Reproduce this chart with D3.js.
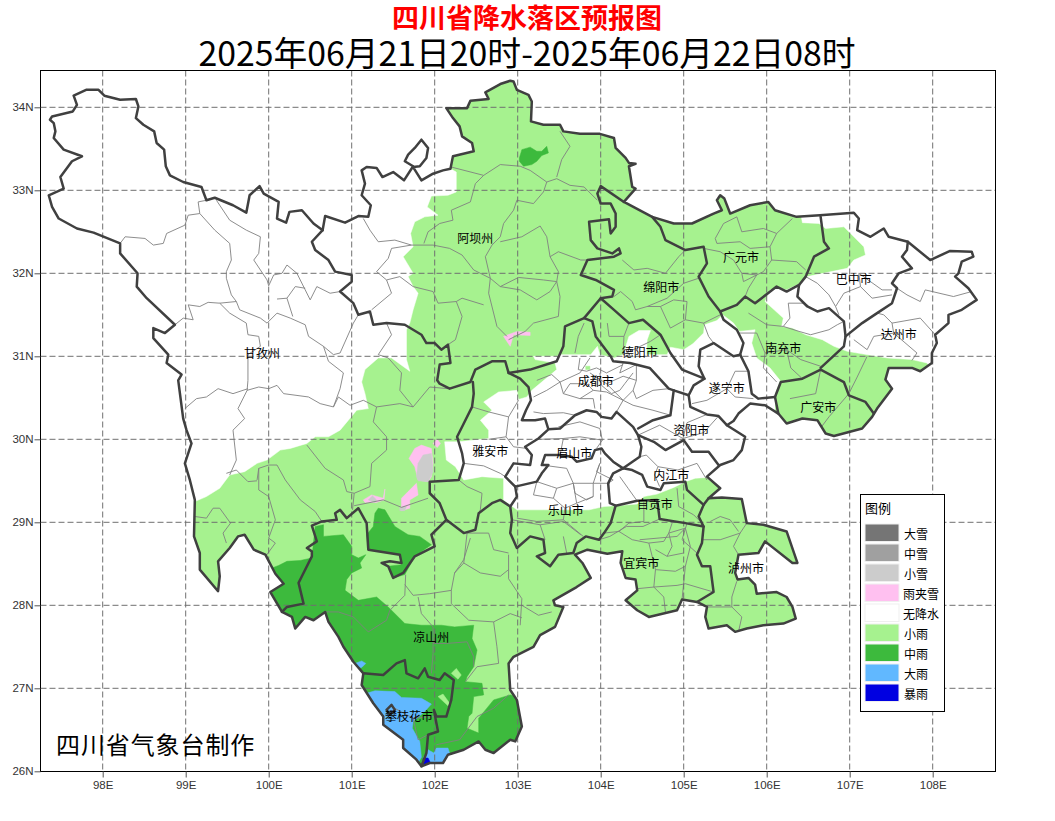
<!DOCTYPE html>
<html><head><meta charset="utf-8">
<script src="https://cdn.jsdelivr.net/npm/d3@7"></script>
<style>html,body{margin:0;padding:0;background:#fff}svg{display:block}</style>
</head><body><svg id="c" width="1055" height="821"></svg>
<script>
const lonTicks=[98,99,100,101,102,103,104,105,106,107,108];
const latTicks=[26,27,28,29,30,31,32,33,34];
const titleMain="四川省降水落区预报图";
const titleSub="2025年06月21日20时-2025年06月22日08时";
const footerText="四川省气象台制作";
const legendTitle="图例";
const legendNames=["大雪","中雪","小雪","雨夹雪","无降水","小雨","中雨","大雨","暴雨"];
const legendColors=["#757575","#a0a0a0","#cccccc","#ffc0f0","#ffffff","#a6f28f","#3dba3d","#61b8ff","#0000e1"];
const cityNames=["阿坝州","甘孜州","广元市","巴中市","绵阳市","达州市","德阳市","南充市","成都市","遂宁市","广安市","资阳市","雅安市","眉山市","内江市","自贡市","乐山市","宜宾市","泸州市","凉山州","攀枝花市"];
const cityLon=[102.49,99.92,105.69,107.05,104.73,107.59,104.47,106.20,103.94,105.52,106.62,105.09,102.67,103.68,104.85,104.65,103.58,104.49,105.75,101.96,101.69];
const cityLat=[32.43,31.05,32.20,31.94,31.84,31.28,31.06,31.11,30.71,30.62,30.39,30.12,29.86,29.84,29.58,29.23,29.15,28.51,28.46,27.63,26.67];

const province=[[97.365,33.85],[97.39,33.89],[97.64,33.95],[97.69,34.03],[97.65,34.14],[97.80,34.21],[97.95,34.21],[98.02,34.14],[98.21,34.09],[98.40,34.10],[98.43,34.01],[98.40,33.87],[98.49,33.79],[98.62,33.71],[98.65,33.57],[98.74,33.49],[98.76,33.29],[98.81,33.18],[98.97,33.10],[99.19,33.04],[99.25,32.88],[99.35,32.91],[99.57,32.82],[99.73,32.73],[99.77,32.94],[99.89,33.05],[99.94,32.96],[100.12,32.86],[100.10,32.66],[100.21,32.61],[100.25,32.74],[100.40,32.76],[100.54,32.60],[100.65,32.52],[100.68,32.69],[100.92,32.61],[101.08,32.69],[101.20,32.68],[101.23,32.82],[101.12,32.94],[101.16,33.08],[101.12,33.24],[101.18,33.28],[101.30,33.27],[101.37,33.16],[101.50,33.22],[101.63,33.12],[101.74,33.29],[101.64,33.35],[101.68,33.43],[101.76,33.51],[101.84,33.61],[101.92,33.51],[101.90,33.39],[101.82,33.29],[101.74,33.28],[101.84,33.12],[101.98,33.20],[102.10,33.24],[102.19,33.26],[102.22,33.41],[102.47,33.47],[102.45,33.57],[102.33,33.65],[102.30,33.77],[102.22,33.87],[102.14,33.99],[102.39,33.99],[102.43,34.08],[102.65,34.10],[102.61,34.18],[102.79,34.28],[102.91,34.32],[102.95,34.31],[102.99,34.21],[103.13,34.15],[103.17,34.07],[103.16,33.83],[103.31,33.79],[103.51,33.79],[103.55,33.71],[103.75,33.68],[103.99,33.68],[104.16,33.63],[104.18,33.51],[104.30,33.39],[104.34,33.33],[104.42,33.32],[104.34,33.29],[104.38,33.04],[104.42,33.02],[104.34,32.93],[104.28,32.86],[104.62,32.68],[104.88,32.60],[105.10,32.60],[105.36,32.72],[105.46,32.76],[105.40,32.88],[105.44,32.94],[105.49,32.90],[105.56,32.72],[105.80,32.82],[106.02,32.86],[106.10,32.76],[106.36,32.68],[106.64,32.70],[107.05,32.73],[107.11,32.66],[107.09,32.52],[107.25,32.44],[107.41,32.54],[107.47,32.44],[107.70,32.38],[107.97,32.16],[108.21,32.27],[108.47,32.26],[108.49,32.20],[108.35,32.14],[108.31,32.00],[108.27,31.96],[108.43,31.82],[108.53,31.68],[108.35,31.56],[108.19,31.50],[108.19,31.40],[108.03,31.26],[108.05,31.16],[107.99,31.04],[107.99,30.92],[107.85,30.82],[107.75,30.86],[107.47,30.86],[107.43,30.72],[107.51,30.61],[107.33,30.37],[107.27,30.27],[107.15,30.13],[106.81,30.04],[106.71,30.07],[106.61,30.23],[106.43,30.25],[106.24,30.19],[106.14,30.31],[105.98,30.41],[105.80,30.43],[105.66,30.31],[105.60,30.22],[105.52,30.17],[105.74,30.03],[105.70,29.87],[105.60,29.75],[105.44,29.69],[105.28,29.55],[105.44,29.41],[105.30,29.29],[105.46,29.30],[105.70,29.28],[105.76,28.99],[105.96,28.97],[106.24,28.89],[106.37,28.51],[106.31,28.51],[105.98,28.77],[105.90,28.63],[105.66,28.61],[105.62,28.39],[105.65,28.31],[105.78,28.33],[105.86,28.25],[105.88,28.14],[106.12,28.16],[106.24,28.10],[106.31,27.98],[106.35,27.84],[106.20,27.78],[105.96,27.76],[105.76,27.72],[105.62,27.68],[105.52,27.76],[105.30,27.72],[105.26,27.86],[105.28,27.98],[105.16,28.04],[104.98,28.07],[104.92,27.94],[104.58,27.86],[104.44,27.94],[104.30,28.06],[104.44,28.18],[104.42,28.31],[104.30,28.33],[104.24,28.51],[104.26,28.65],[104.08,28.62],[103.84,28.67],[103.69,28.61],[103.78,28.51],[103.88,28.33],[103.71,28.22],[103.43,28.06],[103.45,28.00],[103.55,27.98],[103.45,27.74],[103.27,27.64],[103.19,27.50],[102.95,27.38],[102.89,27.30],[102.91,26.98],[102.99,26.86],[103.05,26.54],[102.97,26.36],[102.91,26.38],[102.71,26.22],[102.61,26.26],[102.53,26.36],[102.35,26.26],[102.16,26.20],[102.10,26.10],[101.94,26.10],[101.84,26.06],[101.78,26.14],[101.62,26.28],[101.62,26.38],[101.38,26.56],[101.38,26.66],[101.26,26.82],[101.12,27.04],[101.14,27.18],[101.02,27.32],[100.90,27.50],[100.84,27.62],[100.72,27.80],[100.68,27.92],[100.54,27.82],[100.44,27.86],[100.32,27.72],[100.28,27.86],[100.16,27.92],[100.02,28.16],[100.18,28.26],[100.08,28.38],[99.96,28.61],[99.82,28.67],[99.71,28.85],[99.63,28.83],[99.53,28.69],[99.39,28.53],[99.41,28.35],[99.39,28.17],[99.17,28.43],[99.17,28.63],[99.10,28.83],[99.11,29.27],[99.05,29.51],[98.99,29.71],[99.07,29.95],[99.01,30.11],[98.97,30.25],[98.91,30.71],[98.95,30.78],[98.77,30.92],[98.79,31.02],[98.61,31.22],[98.61,31.34],[98.75,31.28],[98.87,31.38],[98.53,31.70],[98.41,31.84],[98.42,32.00],[98.21,32.24],[98.21,32.36],[97.89,32.49],[97.69,32.54],[97.47,32.66],[97.39,32.80],[97.35,32.94],[97.53,33.02],[97.49,33.16],[97.63,33.35],[97.75,33.41],[97.53,33.49],[97.41,33.63],[97.43,33.71],[97.41,33.81]];

const prefectureLines=[
[[100.65,32.52],[100.52,32.38],[100.56,32.28],[100.72,32.16],[100.80,32.02],[101.00,31.98],[101.00,31.90],[100.86,31.78],[101.02,31.64],[101.08,31.50],[101.22,31.54],[101.26,31.38],[101.42,31.40],[101.64,31.38],[101.84,31.26],[101.90,31.16],[102.00,31.16],[102.08,31.08],[102.16,31.14],[102.19,30.92],[102.06,30.90],[102.03,30.71],[102.06,30.67],[102.18,30.61],[102.43,30.69],[102.49,30.84],[102.69,30.94],[102.85,30.94],[102.89,30.80],[103.15,30.84],[103.47,30.94],[103.55,31.12],[103.57,31.36],[103.80,31.46],[104.00,31.70],[104.14,31.72],[104.16,31.80],[103.94,31.92],[103.76,31.98],[103.84,32.16],[104.16,32.20],[104.24,32.24],[104.22,32.30],[104.14,32.24],[103.96,32.30],[103.88,32.40],[103.86,32.62],[104.10,32.65],[104.12,32.48],[104.18,32.56],[104.18,32.72],[104.12,32.84],[104.00,32.84],[103.96,32.96],[104.00,33.05],[104.28,32.86]],
[[104.62,32.68],[104.72,32.56],[104.78,32.40],[105.02,32.28],[105.24,32.32],[105.28,32.12],[105.18,31.96],[105.30,31.72],[105.44,31.54],[105.64,31.62],[105.74,31.72],[105.86,31.64],[106.12,31.84],[106.24,31.78],[106.39,31.86],[106.47,31.96],[106.57,32.20],[106.75,32.30],[106.69,32.38],[106.65,32.68]],
[[106.39,31.86],[106.37,31.72],[106.49,31.60],[106.61,31.54],[106.75,31.58],[106.93,31.42],[106.95,31.24],[106.93,31.12],[106.65,30.86]],
[[107.70,32.38],[107.69,32.28],[107.63,32.20],[107.75,32.06],[107.59,32.00],[107.51,31.88],[107.57,31.82],[107.51,31.64],[107.33,31.52],[107.15,31.40],[106.95,31.24]],
[[106.14,30.31],[106.10,30.51],[106.17,30.69],[106.43,30.73],[106.65,30.84],[106.93,30.69],[106.99,30.53],[107.19,30.45],[107.29,30.31]],
[[105.44,31.54],[105.48,31.44],[105.64,31.32],[105.72,31.16],[105.68,31.02],[105.60,31.00],[105.36,31.16],[105.20,31.08],[105.18,30.88],[105.25,30.73],[105.12,30.65],[105.06,30.53],[105.08,30.39],[105.28,30.30],[105.42,30.28],[105.52,30.17]],
[[105.68,31.02],[105.78,30.82],[105.82,30.55],[105.90,30.49],[106.10,30.51]],
[[104.00,31.70],[104.16,31.56],[104.34,31.40],[104.51,31.44],[104.72,31.26],[104.84,31.04],[104.98,30.84],[105.25,30.73]],
[[103.80,31.46],[103.90,31.42],[103.94,31.24],[104.12,31.00],[104.15,30.94],[104.35,30.92],[104.59,30.86],[104.82,30.61],[104.88,30.59],[105.06,30.53]],
[[104.88,30.59],[104.84,30.29],[104.63,30.23],[104.45,30.13]],
[[102.89,30.80],[103.03,30.73],[103.13,30.63],[103.16,30.47],[103.10,30.35],[103.05,30.23],[103.21,30.23],[103.33,30.25],[103.37,30.12],[103.51,30.13],[103.69,30.29],[103.83,30.35],[103.95,30.33],[104.01,30.27],[104.13,30.25],[104.19,30.33],[104.39,30.15],[104.45,30.05],[104.49,29.91],[104.47,29.79],[104.27,29.65],[104.15,29.73],[104.05,29.83],[104.01,29.89],[103.93,29.87],[103.89,29.77],[103.71,29.73],[103.65,29.79],[103.51,29.81],[103.33,29.81],[103.29,29.69],[103.37,29.69],[103.29,29.59],[103.23,29.49],[102.97,29.43],[102.85,29.55],[102.95,29.71],[103.15,29.69],[103.17,29.81],[103.09,29.91],[103.25,30.01],[103.37,30.12]],
[[102.97,29.43],[102.99,29.31],[102.91,29.19],[102.93,29.03],[102.91,28.87],[102.99,28.69],[103.15,28.83],[103.31,28.79],[103.33,28.63],[103.23,28.59],[103.39,28.47],[103.49,28.61],[103.67,28.63],[103.71,28.75],[103.82,28.83],[103.98,28.79],[104.04,28.87],[104.12,28.99],[104.18,29.20]],
[[104.27,29.65],[104.15,29.59],[104.09,29.47],[104.11,29.23],[104.18,29.20],[104.44,29.26],[104.68,29.27],[104.71,29.04],[105.02,28.99],[105.24,28.95],[105.18,29.07],[105.24,29.21],[105.30,29.29]],
[[105.24,28.95],[105.22,28.75],[105.16,28.61],[105.22,28.47],[105.32,28.47],[105.36,28.16],[105.16,28.04]],
[[104.27,29.65],[104.38,29.63],[104.50,29.57],[104.56,29.43],[104.72,29.39],[104.76,29.47],[105.02,29.49],[105.04,29.39],[105.24,29.21]],
[[104.45,30.05],[104.64,29.97],[104.78,29.87],[105.00,29.99],[105.10,29.85],[105.30,29.85],[105.42,29.69]],
[[102.46,30.69],[102.47,30.55],[102.45,30.39],[102.35,30.19],[102.27,30.03],[102.33,29.83],[102.35,29.71],[102.29,29.51],[101.94,29.49],[101.94,29.35],[102.06,29.23],[102.14,29.03],[102.35,28.87],[102.49,28.91],[102.53,29.11],[102.69,29.23],[102.79,29.27],[102.91,29.19]],
[[102.14,29.03],[101.96,28.85],[102.00,28.71],[101.76,28.59],[101.62,28.39],[101.50,28.33],[101.44,28.47],[101.36,28.51],[101.46,28.53],[101.60,28.51],[101.58,28.61],[101.20,28.67],[101.18,28.99],[101.08,29.17],[100.94,29.05],[100.86,29.15],[100.80,29.11],[100.82,29.03],[100.64,29.01],[100.52,28.96],[100.58,28.77],[100.46,28.69],[100.52,28.65],[100.52,28.59],[100.40,28.35],[100.36,28.27],[100.42,28.02],[100.22,27.98],[100.16,27.92]],
[[101.14,27.18],[101.38,27.16],[101.54,27.30],[101.64,27.34],[101.66,27.18],[101.80,27.12],[101.88,27.24],[101.92,27.14],[102.06,27.10],[102.12,27.18],[102.23,27.10],[102.20,26.86],[102.14,26.66],[102.02,26.66],[101.99,26.74],[102.04,26.48],[101.92,26.44],[101.90,26.22],[101.84,26.06]],
[[101.42,26.74],[101.48,26.80],[101.52,26.74],[101.46,26.68],[101.42,26.74]]
];

const countyLines=[
[[99.25,32.88],[99.15,32.86],[99.17,32.72],[99.03,32.70],[98.99,32.58],[98.77,32.48],[98.73,32.36],[98.61,32.34],[98.51,32.42],[98.27,32.44],[98.21,32.36]],
[[99.17,32.72],[99.35,32.52],[99.53,32.36],[99.55,32.16],[99.49,32.02],[99.49,31.94],[99.55,31.74],[99.61,31.66]],
[[99.37,32.88],[99.53,32.64],[99.73,32.52],[99.90,32.44],[99.88,32.24],[99.82,32.16],[99.98,31.92],[100.00,31.85],[100.06,31.98],[100.16,32.00],[100.22,32.10],[100.34,32.00],[100.44,31.80],[100.50,31.68],[100.58,31.84],[100.74,31.76],[100.86,31.78]],
[[98.87,31.38],[98.97,31.46],[99.09,31.44],[99.03,31.62],[99.17,31.60],[99.27,31.65],[99.41,31.64],[99.61,31.66],[99.65,31.56],[99.90,31.46],[99.98,31.40],[100.10,31.52],[100.26,31.46],[100.44,31.38],[100.48,31.24],[100.66,31.12],[100.78,31.02],[100.86,31.04],[101.02,31.40],[101.08,31.50]],
[[100.10,31.69],[100.22,31.70],[100.32,31.84],[100.44,31.82]],
[[100.22,31.70],[100.29,31.48]],
[[99.41,31.64],[99.53,31.52],[99.73,31.40],[99.75,31.26],[99.88,31.24],[99.90,31.12],[99.75,31.02],[99.75,30.71],[99.74,30.59],[99.88,30.63],[100.00,30.61],[100.10,30.65],[100.18,30.55],[100.48,30.51],[100.62,30.43],[100.78,30.39],[100.84,30.51],[100.98,30.41],[101.14,30.47],[101.30,30.39],[101.58,30.43],[101.74,30.39],[101.94,30.63],[102.16,30.61]],
[[100.66,31.12],[100.72,30.94],[100.90,30.80],[100.86,30.61],[100.78,30.39]],
[[101.14,32.66],[101.22,32.52],[101.32,32.38],[101.52,32.40],[101.72,32.34],[101.48,32.30],[101.44,32.18],[101.30,32.02],[101.42,31.92],[101.58,31.96],[101.74,31.84]],
[[101.42,31.92],[101.48,31.76],[101.24,31.56]],
[[101.72,32.34],[101.98,32.34],[102.18,32.30],[102.33,32.22],[102.47,32.04],[102.67,31.94],[102.65,31.76],[102.75,31.36],[102.87,31.24]],
[[101.74,31.84],[101.98,31.78],[102.04,31.64],[102.26,31.66],[102.33,31.48],[102.25,31.20],[102.16,31.14]],
[[102.26,31.66],[102.33,31.70],[102.59,31.62]],
[[102.20,33.28],[102.59,33.18],[102.49,33.08],[102.43,32.86],[102.20,32.76],[102.22,32.64],[102.06,32.60],[101.92,32.50],[101.87,32.36]],
[[102.59,33.18],[102.79,33.31],[103.03,33.29],[103.15,33.24],[103.35,33.10],[103.47,33.14],[103.63,33.06],[103.80,33.04],[103.96,32.88]],
[[103.51,33.71],[103.63,33.53],[103.53,33.37],[103.47,33.16]],
[[103.35,33.10],[103.31,32.98],[103.19,32.84],[102.99,32.88],[102.95,32.76],[102.83,32.60],[102.79,32.44],[102.69,32.34],[102.61,32.20],[102.67,31.94]],
[[102.79,32.38],[103.05,32.44],[103.27,32.57],[103.35,32.44],[103.39,32.20],[103.49,32.02],[103.47,31.90],[103.31,31.92],[103.01,31.95],[102.79,31.84],[102.67,31.94]],
[[103.39,32.20],[103.49,32.26],[103.76,32.16],[103.84,32.16]],
[[103.47,31.90],[103.51,31.72],[103.49,31.48],[103.19,31.40],[103.09,31.30],[102.89,31.20]],
[[102.79,31.84],[103.03,31.80],[103.23,31.68],[103.39,31.78],[103.47,31.90]],
[[99.86,29.51],[99.88,29.65],[100.00,29.69],[100.10,29.69],[100.20,29.51],[100.38,29.27],[100.56,29.13],[100.64,29.01]],
[[99.11,29.07],[99.25,29.05],[99.33,29.17],[99.41,29.17],[99.54,28.99],[99.45,28.87],[99.49,28.75]],
[[99.88,29.65],[99.88,29.39],[100.00,29.31],[100.08,29.03],[100.00,28.81],[100.08,28.75],[99.97,28.60]],
[[99.49,29.59],[99.61,29.63],[99.75,29.49],[99.86,29.50]],
[[100.46,29.93],[100.68,29.65],[100.90,29.51],[100.94,29.37],[101.03,29.35],[101.01,29.15]],
[[101.03,29.35],[101.22,29.43],[101.24,29.71],[101.42,29.87],[101.42,30.03],[101.26,30.21],[101.30,30.39]],
[[101.03,29.20],[101.38,29.27],[101.60,29.18],[101.92,29.29]],
[[101.74,30.39],[101.58,30.59],[101.60,30.80],[101.44,30.98],[101.32,31.02],[101.48,31.26],[101.42,31.40]],
[[98.99,30.37],[99.13,30.49],[99.25,30.51],[99.39,30.61],[99.57,30.55],[99.75,30.61]],
[[99.74,30.59],[99.63,30.37],[99.71,30.25],[99.57,30.11],[99.61,29.75],[99.53,29.57]],
[[100.68,27.92],[100.84,27.92],[101.02,27.86],[101.20,27.68],[101.42,27.82],[101.46,27.94],[101.64,28.12],[101.65,28.37]],
[[101.64,28.25],[101.74,28.12],[101.94,28.14],[102.20,28.18],[102.24,28.39],[102.35,28.51],[102.55,28.39],[102.79,28.35],[102.89,28.43]],
[[102.35,28.51],[102.39,28.87],[102.65,28.87],[102.71,28.67],[102.89,28.63]],
[[102.20,28.18],[102.20,28.02],[102.41,27.82],[102.71,27.80],[102.91,27.90],[103.05,27.85]],
[[101.80,28.10],[101.84,27.90],[101.98,27.74],[101.98,27.42],[101.96,27.18]],
[[101.98,27.54],[102.14,27.54],[102.39,27.56],[102.47,27.38],[102.47,27.26]],
[[102.71,27.80],[102.75,27.50],[102.77,27.30],[102.51,27.26],[102.37,27.08]],
[[101.48,26.78],[101.74,26.64],[102.00,26.66]],
[[101.74,26.64],[101.80,26.38],[101.92,26.44]],
[[102.02,26.32],[102.30,26.38],[102.51,26.66],[102.71,26.76],[102.89,26.92]],
[[104.04,28.87],[104.22,28.89],[104.38,28.79],[104.58,28.75],[104.76,28.77],[104.82,28.87],[104.86,28.99]],
[[104.82,28.87],[105.02,28.93],[105.08,28.71],[105.02,28.47],[104.98,28.07]],
[[104.58,28.75],[104.66,28.43],[104.64,28.22],[104.76,28.10],[104.78,27.92]],
[[104.44,28.20],[104.64,28.22],[104.92,28.24],[105.02,28.26],[105.36,28.16]],
[[104.66,28.43],[104.90,28.41],[105.02,28.47]],
[[105.22,28.79],[105.44,28.79],[105.68,28.87],[105.76,28.99]],
[[105.68,28.87],[105.60,28.71],[105.66,28.61]],
[[105.32,29.01],[105.44,29.07],[105.56,29.03],[105.66,28.89]],
[[105.64,28.29],[105.58,28.10],[105.58,27.98],[105.70,27.86],[105.66,27.68]],
[[105.28,27.98],[105.58,27.98]],
[[104.22,28.89],[104.34,28.99],[104.52,29.01],[104.52,29.25]],
[[104.92,29.41],[104.94,29.19],[105.12,29.09],[105.24,28.97]],
[[102.93,29.03],[103.27,28.97],[103.55,29.01],[103.76,28.85]],
[[103.27,28.97],[103.33,28.79]],
[[102.89,28.61],[102.89,28.32],[103.05,28.08],[103.03,27.76]],
[[103.05,28.00],[103.25,27.88],[103.41,27.92]],
[[103.19,30.51],[103.35,30.59],[103.51,30.69],[103.55,30.55],[103.75,30.49],[103.91,30.49],[103.93,30.37]],
[[103.51,30.69],[103.75,30.80],[103.87,30.98]],
[[103.87,30.80],[104.07,30.67],[104.27,30.47],[104.19,30.33]],
[[104.07,30.67],[104.27,30.76],[104.43,30.71],[104.39,30.59],[104.43,30.49],[104.63,30.59],[104.82,30.61]],
[[104.27,30.92],[104.23,30.80],[104.43,30.90],[104.43,30.71]],
[[103.75,30.49],[103.91,30.59],[104.07,30.57],[104.27,30.47]],
[[103.49,30.15],[103.75,30.21],[103.99,30.13],[104.02,29.99],[103.95,29.89]],
[[103.27,30.00],[103.55,30.01],[103.51,29.81]],
[[103.55,30.01],[103.75,30.03],[104.02,29.99]],
[[102.45,30.39],[102.65,30.33],[102.89,30.27],[102.86,30.03],[102.95,29.91],[103.11,29.89]],
[[102.89,30.27],[103.01,30.47]],
[[102.35,29.71],[102.59,29.68],[102.79,29.59],[102.85,29.55]],
[[102.29,29.51],[102.39,29.43],[102.57,29.35],[102.55,29.15],[102.53,29.11]],
[[103.23,29.49],[103.19,29.33],[103.43,29.29],[103.47,29.41],[103.67,29.47],[103.91,29.47],[103.99,29.71]],
[[103.43,29.29],[103.57,29.17],[103.71,29.23],[103.91,29.31],[103.91,29.47]],
[[103.67,29.47],[103.71,29.23]],
[[103.29,29.69],[103.59,29.65],[103.67,29.47]],
[[103.91,29.47],[104.11,29.47]],
[[102.99,29.05],[103.23,29.01],[103.55,29.03],[103.79,28.83]],
[[103.57,29.17],[103.55,29.03]],
[[105.10,30.43],[105.28,30.47],[105.52,30.61],[105.62,30.82],[105.78,30.82]],
[[105.52,30.61],[105.62,30.51],[105.84,30.49]],
[[104.26,32.16],[104.40,32.04],[104.56,32.06],[104.78,32.00],[104.94,32.20],[105.02,32.28]],
[[104.16,31.72],[104.24,31.78],[104.38,31.66],[104.42,31.56],[104.56,31.60],[104.80,31.70],[105.00,31.88],[105.18,31.94]],
[[104.56,31.60],[104.72,31.60],[104.84,31.34],[105.02,31.44],[105.24,31.40],[105.44,31.50]],
[[104.72,31.60],[104.88,31.68],[105.04,31.66],[105.02,31.44]],
[[105.24,31.40],[105.30,31.24],[105.36,31.16]],
[[103.80,31.40],[103.73,31.24],[103.69,31.04]],
[[104.08,31.40],[104.10,31.24],[104.28,31.24],[104.34,31.40]],
[[104.28,31.24],[104.27,31.02],[104.60,31.18],[104.72,31.26]],
[[105.48,32.60],[105.64,32.68],[105.70,32.50],[105.96,32.54],[106.12,32.48],[106.31,32.66]],
[[105.48,32.60],[105.38,32.42],[105.40,32.36],[105.68,32.38],[105.80,32.30],[106.04,32.32],[106.12,32.48]],
[[105.24,32.30],[105.44,32.26],[105.60,32.16],[105.70,32.00],[105.72,31.90],[105.96,32.02],[106.06,32.16],[106.36,32.14],[106.47,32.04]],
[[105.70,32.00],[105.88,31.98],[105.78,31.82],[105.74,31.72]],
[[106.04,32.32],[106.06,32.16]],
[[106.47,31.96],[106.61,31.88],[106.75,31.74],[106.83,31.60],[106.87,31.50]],
[[106.83,31.60],[106.93,31.76],[107.13,31.84],[107.27,31.70],[107.51,31.74]],
[[107.13,31.84],[107.11,32.00],[107.39,31.80],[107.51,31.80]],
[[106.26,31.64],[106.28,31.46],[106.20,31.36],[106.39,31.30],[106.53,31.26],[106.75,31.32],[106.85,31.38],[106.93,31.42]],
[[106.26,31.64],[106.45,31.64],[106.61,31.54]],
[[105.78,31.52],[106.00,31.38],[106.20,31.36]],
[[105.66,31.28],[105.88,31.28],[105.98,31.04],[105.96,30.86],[106.12,30.69]],
[[105.98,31.04],[106.24,31.08],[106.41,30.96],[106.65,30.88]],
[[106.24,31.08],[106.29,30.86],[106.43,30.73]],
[[107.57,31.82],[107.69,31.74],[107.85,31.66],[107.91,31.80],[108.25,31.72],[108.47,31.78]],
[[107.33,31.52],[107.41,31.50],[107.51,31.40],[107.53,31.28],[107.29,31.24],[107.21,31.08],[107.05,31.20]],
[[107.53,31.28],[107.81,31.04],[107.75,30.95]],
[[107.51,31.40],[107.85,31.46],[108.03,31.26]],
[[106.65,30.84],[106.59,30.55],[106.28,30.49]],
[[107.21,31.00],[107.09,30.75],[106.99,30.55],[106.75,30.27],[106.66,30.15]],
[[103.75,30.98],[103.73,30.84],[103.83,30.82],[103.95,30.86],[104.07,30.80],[104.27,30.90]],
[[103.99,30.80],[104.01,30.65],[104.13,30.55],[104.23,30.59],[104.29,30.67],[104.39,30.80]],
[[103.23,30.71],[103.41,30.78],[103.51,30.69]],
[[103.55,30.55],[103.63,30.67],[103.83,30.67],[103.91,30.59]],
[[104.39,30.59],[104.27,30.47],[104.39,30.41],[104.63,30.35],[104.84,30.29]],
[[103.19,30.33],[103.31,30.31],[103.55,30.32],[103.69,30.29]],
[[102.65,30.00],[102.86,30.03]],
[[103.99,29.71],[103.95,29.61],[104.15,29.51],[104.09,29.47]],
[[103.23,29.49],[103.41,29.43],[103.47,29.41]],
[[103.67,29.47],[103.69,29.35],[103.83,29.27],[103.91,29.31]],
[[104.47,29.79],[104.55,29.81],[104.69,29.67],[104.93,29.63],[105.16,29.71],[105.28,29.51]],
[[104.69,29.67],[104.65,29.57],[104.71,29.43]],
[[104.45,30.05],[104.71,30.17],[104.99,30.01],[105.04,30.20],[105.28,30.30]],
[[104.99,30.01],[105.24,30.08],[105.42,30.28]],
[[104.23,29.55],[104.33,29.41],[104.43,29.27]],
[[102.43,28.81],[102.35,28.55],[102.24,28.39]],
[[103.55,28.83],[103.59,28.63]],
[[103.98,28.79],[104.11,28.83],[104.31,28.95],[104.51,28.95],[104.71,29.04]],
[[104.47,28.79],[104.92,28.83],[105.02,28.93]],
[[105.04,28.99],[104.98,28.79],[105.16,28.63]],
[[104.82,28.87],[104.86,28.71],[104.80,28.59],[105.00,28.63]],
[[104.66,28.67],[104.80,28.59]]
];

const noRainWest=[[97,34.5],[102.13,34.5],[102.13,34.05],[102.19,33.26],[102.26,33.22],[102.26,32.98],[102.16,32.94],[101.96,32.93],[101.91,32.80],[102.04,32.70],[101.88,32.68],[101.76,32.62],[101.71,32.48],[101.74,32.32],[101.62,32.20],[101.74,32.00],[101.68,31.96],[101.74,31.84],[101.80,31.76],[101.74,31.56],[101.70,31.40],[101.66,31.32],[101.66,30.96],[101.70,30.82],[101.48,30.98],[101.32,30.98],[101.16,30.84],[101.12,30.69],[101.16,30.55],[101.20,30.37],[101.06,30.35],[100.86,30.11],[100.72,30.03],[100.56,30.03],[100.46,29.95],[100.26,29.89],[100.14,29.87],[99.98,29.75],[99.86,29.71],[99.71,29.61],[99.53,29.57],[99.41,29.41],[99.25,29.31],[99.11,29.25],[99.0,29.20],[97,29.20]];
const noRainEast=[[106.41,32.8],[106.41,32.72],[106.43,32.61],[106.63,32.60],[106.71,32.54],[106.93,32.56],[107.05,32.44],[107.17,32.32],[107.19,32.22],[107.05,32.16],[106.97,32.06],[106.49,31.96],[106.39,31.87],[106.24,31.80],[106.14,31.82],[106.04,31.80],[105.98,31.66],[106.20,31.46],[106.18,31.36],[106.31,31.34],[106.47,31.26],[106.67,31.20],[106.81,31.12],[106.97,31.06],[107.45,30.98],[107.75,30.96],[107.93,30.92],[108.01,30.82],[108.9,30.82],[108.9,32.8]];
const noRainCentre=[[103.19,31.00],[103.47,31.00],[103.51,31.02],[103.88,31.02],[103.96,31.12],[103.99,31.02],[104.16,30.98],[104.27,31.02],[104.34,31.24],[104.46,31.31],[104.60,31.31],[104.56,31.20],[104.55,31.02],[104.80,31.02],[104.84,31.11],[105.00,31.08],[105.11,31.15],[105.24,31.28],[105.25,31.38],[105.40,31.43],[105.47,31.50],[105.60,31.40],[105.67,31.30],[105.86,31.32],[105.82,31.16],[105.88,30.98],[106.04,30.86],[106.16,30.71],[106.10,30.55],[106.10,30.20],[106.0,29.6],[105.32,29.5],[105.28,29.54],[105.14,29.53],[105.02,29.49],[104.88,29.42],[104.68,29.34],[104.52,29.31],[104.44,29.22],[104.18,29.20],[104.04,29.19],[103.86,29.15],[103.31,29.15],[102.99,29.15],[102.83,29.27],[102.83,29.53],[102.57,29.55],[102.35,29.51],[102.25,29.67],[102.14,29.75],[102.12,29.97],[102.29,29.97],[102.65,30.01],[102.65,30.11],[102.55,30.23],[102.69,30.35],[102.59,30.45],[102.77,30.57],[102.99,30.59],[103.01,30.48],[103.11,30.51],[103.17,30.59],[103.47,30.84],[103.45,30.92],[103.21,30.96]];
const moderateMain=[[100.04,28.45],[100.12,28.48],[100.22,28.53],[100.38,28.54],[100.52,28.57],[100.56,28.95],[100.66,28.97],[100.66,28.83],[100.90,28.85],[101.00,28.71],[101.00,28.61],[101.08,28.57],[101.17,28.61],[101.10,28.51],[101.12,28.45],[101.00,28.39],[100.94,28.31],[100.92,28.18],[101.08,28.06],[101.30,28.10],[101.44,27.98],[101.64,27.78],[101.84,27.76],[102.08,27.76],[102.24,27.74],[102.47,27.76],[102.45,27.60],[102.51,27.46],[102.47,27.26],[102.39,27.14],[102.37,27.08],[102.57,27.06],[102.59,26.92],[102.47,26.90],[102.45,26.70],[102.41,26.66],[102.39,26.52],[102.53,26.46],[102.53,26.64],[102.71,26.86],[102.91,26.92],[103.0,26.9],[103.3,26.9],[103.3,25.8],[100.0,25.8]];
const moderateLoop=[[101.18,28.85],[101.26,28.95],[101.28,29.11],[101.32,29.17],[101.40,29.15],[101.52,28.95],[101.68,28.85],[101.82,28.83],[101.96,28.73],[101.76,28.59],[101.64,28.37],[101.50,28.33],[101.44,28.47],[101.60,28.49],[101.58,28.61],[101.20,28.67]];
const moderateNorth=[[103.02,33.39],[103.05,33.49],[103.15,33.52],[103.23,33.47],[103.29,33.47],[103.35,33.53],[103.37,33.45],[103.29,33.42],[103.23,33.35],[103.17,33.31],[103.07,33.29],[103.02,33.35]];
const lightPatchA=[[102.20,27.18],[102.26,27.24],[102.32,27.16],[102.28,27.11]];
const lightPatchB=[[102.04,26.90],[102.10,26.93],[102.18,26.82],[102.16,26.79]];
const lightPatchC=[[103.82,30.88],[103.87,30.88],[103.87,30.84],[103.82,30.84]];
const heavyMain=[[101.28,26.97],[101.52,26.96],[101.60,26.89],[101.84,26.88],[101.96,26.81],[101.88,26.72],[101.74,26.60],[101.73,26.52],[101.82,26.36],[101.84,26.17],[101.79,26.08],[101.58,26.10],[101.18,26.42],[101.18,26.94]];
const heavySouth=[[101.92,26.26],[101.99,26.22],[102.02,26.28],[102.16,26.28],[102.18,26.22],[102.11,26.10],[101.90,26.04],[101.86,26.16]];
const heavySmall=[[101.04,27.30],[101.12,27.33],[101.17,27.30],[101.12,27.25],[101.06,27.25]];
const stormSouth=[[101.86,26.16],[101.92,26.16],[101.95,26.10],[101.86,26.06]];
const sleetA=[[101.69,29.77],[101.76,29.89],[101.84,29.93],[101.96,29.89],[101.98,29.71],[101.96,29.55],[101.92,29.49],[101.80,29.51],[101.76,29.67]];
const sleetB=[[101.60,29.29],[101.68,29.37],[101.78,29.47],[101.80,29.33],[101.70,29.27],[101.70,29.17],[101.60,29.14]];
const sleetC=[[101.14,29.27],[101.24,29.33],[101.38,29.29],[101.40,29.40],[101.39,29.27],[101.30,29.24],[101.16,29.24]];
const sleetD=[[101.98,29.95],[102.03,30.00],[102.07,29.95],[102.03,29.90]];
const sleetE=[[102.83,31.24],[102.91,31.12],[102.95,31.26],[103.15,31.25],[103.15,31.29],[102.99,31.30]];
const snowA=[[101.78,29.55],[101.80,29.71],[101.86,29.81],[101.96,29.83],[101.98,29.61],[101.92,29.49],[101.80,29.50]];
const snowB=[[101.58,29.18],[101.66,29.19],[101.64,29.14],[101.58,29.14]];
const snowC=[[101.20,29.27],[101.25,29.32],[101.30,29.27],[101.28,29.24]];

const W=1055,H=821;
const svg=d3.select("#c");
const plotL=40.5,plotT=70.5,plotR=995.5,plotB=771.5;
const x=d3.scaleLinear().domain([98,108]).range([102.7,932.7]);
const y=d3.scaleLinear().domain([26,34]).range([771.3,107.3]);
const pline=d3.line().x(d=>x(d[0])).y(d=>y(d[1]));
const ppoly=a=>pline(a)+"Z";
const cjk='"Noto Sans CJK SC","Noto Sans",sans-serif';
const defs=svg.append("defs");
defs.append("clipPath").attr("id","prov").append("path").attr("d",ppoly(province));

const fills=svg.append("g").attr("clip-path","url(#prov)");
const paint=(a,c)=>fills.append("path").attr("d",ppoly(a)).attr("fill",c).attr("stroke",c).attr("stroke-width",.5);
const colorOf=n=>legendColors[legendNames.indexOf(n)];
paint(province,colorOf("小雨"));
[noRainWest,noRainEast,noRainCentre].forEach(a=>paint(a,colorOf("无降水")));
paint(lightPatchC,colorOf("小雨"));
[sleetA,sleetB,sleetC,sleetD,sleetE].forEach(a=>paint(a,colorOf("雨夹雪")));
[snowA,snowB,snowC].forEach(a=>paint(a,colorOf("小雪")));
[moderateMain,moderateLoop,moderateNorth].forEach(a=>paint(a,colorOf("中雨")));
[lightPatchA,lightPatchB].forEach(a=>paint(a,colorOf("小雨")));
[heavyMain,heavySouth,heavySmall].forEach(a=>paint(a,colorOf("大雨")));
paint(stormSouth,colorOf("暴雨"));

svg.append("g").selectAll("path").data(countyLines).join("path")
 .attr("d",pline).attr("fill","none").attr("stroke","#808080").attr("stroke-width",.9).attr("stroke-linejoin","round");

const gridG=svg.append("g").attr("stroke","#707070").attr("stroke-width",1).attr("stroke-dasharray","6 3");
gridG.selectAll("line.v").data(lonTicks).join("line").attr("class","v").attr("x1",d=>x(d)).attr("x2",d=>x(d)).attr("y1",plotT).attr("y2",plotB);
gridG.selectAll("line.h").data(latTicks.slice(1)).join("line").attr("class","h").attr("y1",d=>y(d)).attr("y2",d=>y(d)).attr("x1",plotL).attr("x2",plotR);

const thick=svg.append("g").attr("fill","none").attr("stroke","#404040").attr("stroke-width",2.5).attr("stroke-linejoin","round").attr("stroke-linecap","round");
thick.selectAll("path.p").data(prefectureLines).join("path").attr("class","p").attr("d",pline);
thick.append("path").attr("d",ppoly(province));

svg.append("g").selectAll("text").data(cityNames).join("text")
 .attr("x",(d,i)=>x(cityLon[i])).attr("y",(d,i)=>y(cityLat[i])).attr("text-anchor","middle").attr("dominant-baseline","central")
 .attr("font-family",cjk).attr("font-size",12).attr("fill","#000").text(d=>d);

svg.append("rect").attr("x",plotL).attr("y",plotT).attr("width",plotR-plotL).attr("height",plotB-plotT).attr("fill","none").attr("stroke","#000").attr("stroke-width",1);

const ax=svg.append("g").attr("transform",`translate(0,${plotB})`).call(d3.axisBottom(x).tickValues(lonTicks).tickFormat(d=>d+"E").tickSize(6).tickPadding(3));
const ay=svg.append("g").attr("transform",`translate(${plotL},0)`).call(d3.axisLeft(y).tickValues(latTicks).tickFormat(d=>d+"N").tickSize(6).tickPadding(1));
[ax,ay].forEach(g=>{g.select(".domain").remove();g.selectAll("line").attr("stroke","#555");g.selectAll("text").attr("font-family",'"Liberation Sans",Arial,sans-serif').attr("font-size",11.5).attr("fill","#333");});

svg.append("text").attr("x",527).attr("y",28).attr("text-anchor","middle").attr("font-family",cjk).attr("font-weight",700).attr("font-size",27).attr("fill","#ff0000").text(titleMain);
svg.append("text").attr("x",527).attr("y",66).attr("text-anchor","middle").attr("font-family",cjk).attr("font-size",33.8).attr("fill","#000").text(titleSub);
svg.append("text").attr("x",56).attr("y",754).attr("font-family",cjk).attr("font-size",24).attr("letter-spacing",.9).attr("fill","#000").text(footerText);

const lg=svg.append("g");
lg.append("rect").attr("x",860.5).attr("y",494.5).attr("width",84).attr("height",217).attr("fill","#fff").attr("stroke","#000").attr("stroke-width",1);
lg.append("text").attr("x",865).attr("y",513).attr("font-family",cjk).attr("font-size",13).text(legendTitle);
const ly=d3.scalePoint().domain(legendNames).range([524,684]);
const row=lg.selectAll("g.r").data(legendNames).join("g").attr("class","r").attr("transform",d=>`translate(865,${ly(d)})`);
row.append("rect").attr("width",34).attr("height",17.5).attr("fill",(d,i)=>legendColors[i]).attr("stroke","#efefef").attr("stroke-width",1);
row.append("text").attr("x",d=>d.length>2?38:39).attr("y",9).attr("dominant-baseline","central").attr("font-family",cjk).attr("font-size",12).attr("fill","#000").text(d=>d);
</script></body></html>
